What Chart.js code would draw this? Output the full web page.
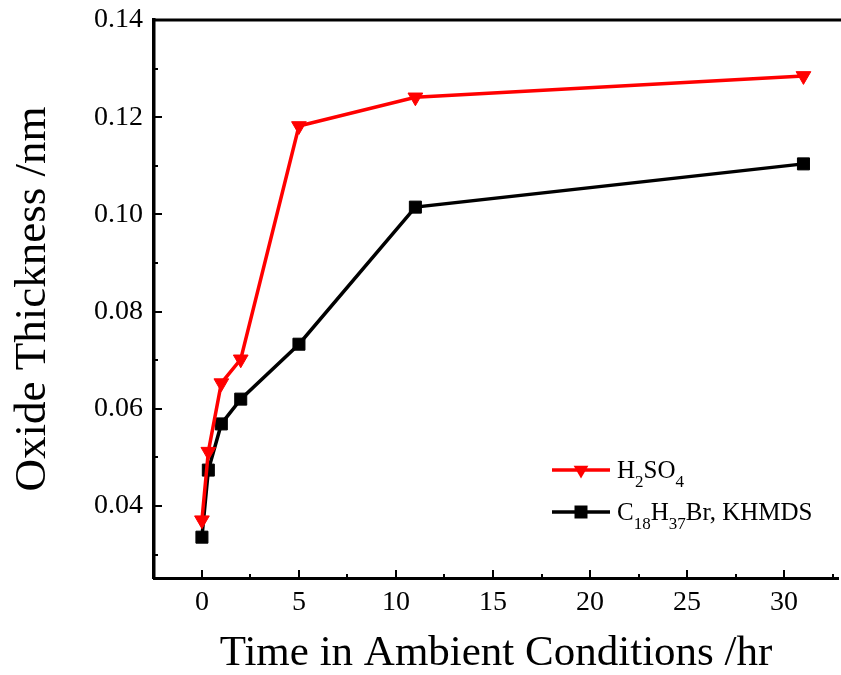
<!DOCTYPE html>
<html>
<head>
<meta charset="utf-8">
<script src="https://cdn.jsdelivr.net/npm/chart.js@4.4.0/dist/chart.umd.min.js"></script>
<style>
	html, body { margin: 0; padding: 0; background: #fff; }
</style>
</head>
<body>
<canvas id="oxide-chart" width="841" height="675"></canvas>
<script>
"use strict";

const hours = [0, 0.33, 1, 2, 5, 11, 31];
const acidValues = [0.0371, 0.0512, 0.0653, 0.0702, 0.1182, 0.1241, 0.1285];
const alkylValues = [0.0336, 0.0474, 0.0569, 0.0620, 0.0733, 0.1015, 0.1104];

const xTicks = [0, 5, 10, 15, 20, 25, 30];
const xMinor = [2.5, 7.5, 12.5, 17.5, 22.5, 27.5, 32.5];
const yTicks = [0.04, 0.06, 0.08, 0.10, 0.12, 0.14];
const yMinor = [0.03, 0.05, 0.07, 0.09, 0.11, 0.13];

// legend text pieces: [text, isSubscript]
const acidLabel = [["H", false], ["2", true], ["SO", false], ["4", true]];
const alkylLabel = [["C", false], ["18", true], ["H", false], ["37", true], ["Br, KHMDS", false]];

const serif = "'Liberation Serif', 'Times New Roman', serif";

function toPoints(values){
	return hours.map((h, i) => ({x: h, y: values[i]}));
}

const frame = {
	id: "frame",
	afterDraw(chart){
		const c = chart.ctx;
		const area = chart.chartArea;
		const xs = chart.scales.x;
		const ys = chart.scales.y;
		c.save();
		c.strokeStyle = "#000";
		c.lineWidth = 3;
		c.beginPath();
		c.moveTo(area.left - 1.5, area.top);
		c.lineTo(chart.width, area.top);
		c.stroke();

		c.lineWidth = 2;
		c.beginPath();
		xTicks.forEach(v => {
			const px = Math.round(xs.getPixelForValue(v));
			c.moveTo(px, area.bottom);
			c.lineTo(px, area.bottom - 8);
		});
		xMinor.forEach(v => {
			const px = Math.round(xs.getPixelForValue(v));
			c.moveTo(px, area.bottom);
			c.lineTo(px, area.bottom - 4);
		});
		yTicks.forEach(v => {
			const py = Math.round(ys.getPixelForValue(v));
			c.moveTo(area.left, py);
			c.lineTo(area.left + 8, py);
		});
		yMinor.forEach(v => {
			const py = Math.round(ys.getPixelForValue(v));
			c.moveTo(area.left, py);
			c.lineTo(area.left + 4, py);
		});
		c.stroke();
		c.restore();
	}
};

function drawLegendText(c, parts, x, y){
	parts.forEach(([txt, sub]) => {
		c.font = (sub ? "17px " : "25px ") + serif;
		c.fillText(txt, x, sub ? y + 9 : y);
		x += c.measureText(txt).width;
	});
}

const legendBox = {
	id: "legendBox",
	afterDraw(chart){
		const c = chart.ctx;
		const sets = chart.data.datasets;
		const rows = [
			{set: sets[0], parts: acidLabel, y: 470},
			{set: sets[1], parts: alkylLabel, y: 512}
		];
		c.save();
		rows.forEach(row => {
			c.strokeStyle = row.set.borderColor;
			c.fillStyle = row.set.borderColor;
			c.lineWidth = 3.5;
			c.beginPath();
			c.moveTo(552, row.y);
			c.lineTo(610, row.y);
			c.stroke();
			c.beginPath();
			if (row.set.pointStyle === "triangle"){
				const r = 8.5;
				c.moveTo(581 - r * 0.866, row.y - r / 2);
				c.lineTo(581 + r * 0.866, row.y - r / 2);
				c.lineTo(581, row.y + r);
				c.closePath();
			} else {
				const s = 6.5;
				c.rect(581 - s, row.y - s, 2 * s, 2 * s);
			}
			c.fill();
			c.fillStyle = "#000";
			c.textBaseline = "alphabetic";
			drawLegendText(c, row.parts, 617, row.y + 8);
		});
		c.restore();
	}
};

const ctx = document.querySelector("#oxide-chart").getContext("2d");

new Chart(ctx, {
	type: "line",
	data: {
		datasets: [{
			label: "H2SO4",
			data: toPoints(acidValues),
			borderColor: "#ff0000",
			backgroundColor: "#ff0000",
			borderWidth: 3.5,
			pointStyle: "triangle",
			pointRotation: 180,
			pointRadius: 8.5,
			pointBorderWidth: 1,
			tension: 0
		}, {
			label: "C18H37Br, KHMDS",
			data: toPoints(alkylValues),
			borderColor: "#000000",
			backgroundColor: "#000000",
			borderWidth: 3.5,
			pointStyle: "rect",
			pointRadius: 8.5,
			pointBorderWidth: 1,
			tension: 0
		}]
	},
	options: {
		responsive: false,
		animation: false,
		layout: {
			autoPadding: false,
			padding: {top: 20, right: 3, left: 0, bottom: 0}
		},
		plugins: {
			legend: {display: false},
			tooltip: {enabled: false}
		},
		scales: {
			x: {
				type: "linear",
				min: -2.47,
				max: 32.78,
				afterBuildTicks: scale => { scale.ticks = xTicks.map(v => ({value: v})); },
				afterFit: scale => {
					scale.height = 97;
					scale.paddingLeft = 0;
					scale.paddingRight = 0;
				},
				grid: {drawOnChartArea: false, drawTicks: false},
				border: {display: true, color: "#000", width: 3},
				ticks: {
					color: "#000",
					font: {family: serif, size: 28},
					padding: 8,
					maxRotation: 0
				},
				title: {
					display: true,
					text: "Time in Ambient Conditions /hr",
					color: "#000",
					font: {family: serif, size: 43, lineHeight: 1},
					padding: {top: 0, bottom: 0}
				}
			},
			y: {
				type: "linear",
				min: 0.0252,
				max: 0.14,
				afterBuildTicks: scale => { scale.ticks = yTicks.map(v => ({value: v})); },
				afterFit: scale => {
					scale.width = 154;
					scale.paddingTop = 0;
					scale.paddingBottom = 0;
				},
				grid: {drawOnChartArea: false, drawTicks: false},
				border: {display: true, color: "#000", width: 3.5},
				ticks: {
					color: "#000",
					font: {family: serif, size: 28},
					padding: 11,
					callback: v => v.toFixed(2)
				},
				title: {
					display: true,
					text: "Oxide Thickness /nm",
					color: "#000",
					font: {family: serif, size: 45, lineHeight: 1},
					padding: {top: 11, bottom: 0}
				}
			}
		}
	},
	plugins: [frame, legendBox]
});
</script>
</body>
</html>
